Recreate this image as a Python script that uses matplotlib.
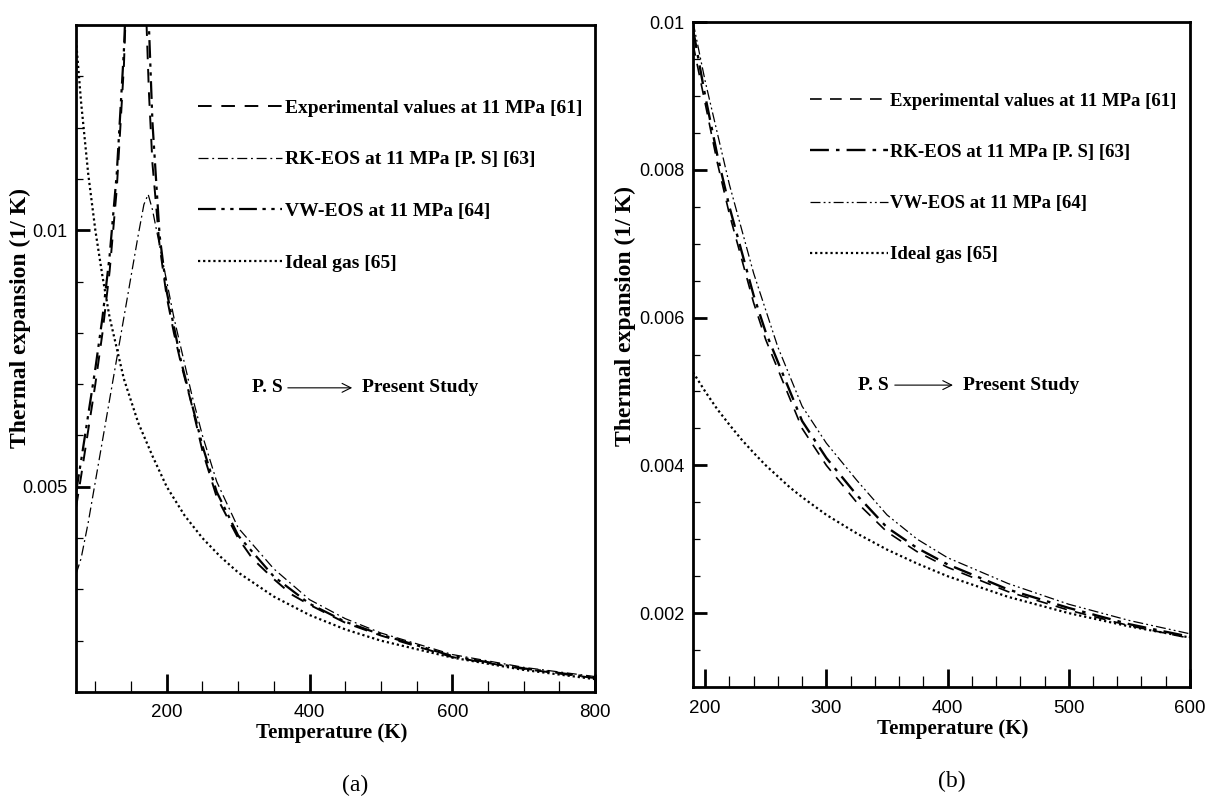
import matplotlib
matplotlib.use("Agg")
import matplotlib.pyplot as plt
from matplotlib.ticker import MultipleLocator

# ---------------- panel (a) data ----------------
t_exp_a = [73, 80, 90, 100, 110, 120, 130, 140, 145, 150, 155, 160, 165, 170, 175, 180, 190,
           200, 210, 220, 235, 250, 270, 300, 320, 350, 375, 400, 450, 500, 600, 700, 800]
exp_a = [0.0046, 0.0052, 0.0061, 0.0070, 0.0080, 0.0092, 0.0108, 0.0132, 0.0152, 0.0180, 0.0205,
         0.0210, 0.0185, 0.0147, 0.0127, 0.0113, 0.0097, 0.0087, 0.0080, 0.0074, 0.0066, 0.0057,
         0.0048, 0.0040, 0.0036, 0.0032, 0.0029, 0.0027, 0.00235, 0.0021, 0.00168, 0.00145, 0.00127]

t_rk_a = [73, 80, 90, 100, 110, 120, 130, 140, 150, 160, 168, 174, 180, 190, 200, 210, 220,
          235, 250, 270, 300, 350, 400, 450, 500, 600, 700, 800]
rk_a = [0.0033, 0.0036, 0.0043, 0.0051, 0.0059, 0.0067, 0.0075, 0.0083, 0.0091, 0.0099, 0.0105,
        0.0107, 0.0104, 0.0097, 0.0090, 0.0083, 0.0077, 0.0068, 0.0060, 0.0051, 0.0042, 0.0034,
        0.0028, 0.00243, 0.00215, 0.00173, 0.00148, 0.0013]

t_vw_a = [73, 80, 90, 100, 110, 120, 130, 140, 150, 160, 165, 170, 175, 180, 190, 200, 220,
          250, 270, 300, 350, 400, 450, 500, 600, 700, 800]
vw_a = [0.0049, 0.0055, 0.0064, 0.0073, 0.0083, 0.0095, 0.0111, 0.0135, 0.0170, 0.0195, 0.0190,
        0.0165, 0.0140, 0.0121, 0.0099, 0.0088, 0.00745, 0.0058, 0.0049, 0.00405, 0.00325,
        0.00272, 0.00237, 0.00212, 0.0017, 0.00146, 0.00128]

t_ideal_a = [73, 80, 90, 100, 110, 120, 130, 140, 160, 180, 200, 225, 250, 275, 300, 350, 400,
             450, 500, 600, 700, 800]
ideal_a = [0.0137, 0.0125, 0.0111, 0.0100, 0.0091, 0.0083, 0.0077, 0.0071, 0.00625, 0.0056,
           0.0050, 0.00444, 0.0040, 0.00364, 0.00333, 0.00286, 0.0025, 0.00222, 0.0020,
           0.00167, 0.00143, 0.00125]

# ---------------- panel (b) data ----------------
t_b = [190, 200, 210, 220, 230, 240, 250, 260, 270, 280, 300, 325, 350, 375, 400, 450, 500, 550, 600]
exp_b = [0.0097, 0.0089, 0.0081, 0.0074, 0.0068, 0.0062, 0.0057, 0.0053, 0.0049, 0.0045, 0.0040,
         0.0035, 0.0031, 0.00283, 0.00262, 0.00229, 0.00204, 0.00183, 0.00166]
rk_b = [0.0099, 0.0090, 0.0082, 0.0075, 0.0069, 0.0063, 0.0058, 0.0054, 0.0050, 0.0046, 0.0041,
        0.0036, 0.00316, 0.00288, 0.00266, 0.00232, 0.00207, 0.00185, 0.00168]
vw_b = [0.0100, 0.0092, 0.0085, 0.0078, 0.0072, 0.0066, 0.0061, 0.0056, 0.0052, 0.0048, 0.0043,
        0.0038, 0.00333, 0.003, 0.00275, 0.0024, 0.00212, 0.0019, 0.00172]
ideal_b = [0.00526, 0.0050, 0.00476, 0.00455, 0.00435, 0.00417, 0.0040, 0.00385, 0.0037,
           0.00357, 0.00333, 0.00308, 0.00286, 0.00267, 0.0025, 0.00222, 0.0020, 0.00182, 0.00167]

labels = ["Experimental values at 11 MPa [61]", "RK-EOS at 11 MPa [P. S] [63]",
          "VW-EOS at 11 MPa [64]", "Ideal gas [65]"]

SERIF = "Liberation Serif"
SANS = "Liberation Sans"

dash = (0, (7, 5))
dashdot = (0, (8, 3, 1.5, 3))
dashdotdot = (0, (8, 2.5, 1.5, 2.5, 1.5, 2.5))
dots = (0, (1, 1.3))

fig = plt.figure(figsize=(12.15, 8.01), dpi=100)
ax1 = fig.add_axes([0.0626, 0.1361, 0.4272, 0.8327])
ax2 = fig.add_axes([0.5704, 0.1423, 0.4090, 0.8302])

# panel (a)
ax1.plot(t_exp_a, exp_a, color="black", lw=1.4, ls=dash, label=labels[0])
ax1.plot(t_rk_a, rk_a, color="black", lw=0.9, ls=dashdot, label=labels[1])
ax1.plot(t_vw_a, vw_a, color="black", lw=1.6, ls=dashdotdot, label=labels[2])
ax1.plot(t_ideal_a, ideal_a, color="black", lw=1.6, ls=dots, label=labels[3])
ax1.set_xlim(73, 800)
ax1.set_ylim(0.001, 0.014)
ax1.set_xticks([200, 400, 600, 800], ["200", "400", "600", "800"])
ax1.set_yticks([0.005, 0.01], ["0.005", "0.01"])
ax1.xaxis.set_minor_locator(MultipleLocator(50))
ax1.yaxis.set_minor_locator(MultipleLocator(0.001))

# panel (b)
ax2.plot(t_b, exp_b, color="black", lw=1.2, ls=dash, label=labels[0])
ax2.plot(t_b, rk_b, color="black", lw=1.7, ls=dashdot, label=labels[1])
ax2.plot(t_b, vw_b, color="black", lw=0.9, ls=dashdotdot, label=labels[2])
ax2.plot(t_b, ideal_b, color="black", lw=1.6, ls=dots, label=labels[3])
ax2.set_xlim(190, 600)
ax2.set_ylim(0.001, 0.01)
ax2.set_xticks([200, 300, 400, 500, 600], ["200", "300", "400", "500", "600"])
ax2.set_yticks([0.002, 0.004, 0.006, 0.008, 0.01],
               ["0.002", "0.004", "0.006", "0.008", "0.01"])
ax2.xaxis.set_minor_locator(MultipleLocator(20))
ax2.yaxis.set_minor_locator(MultipleLocator(0.0005))

for ax, ylab_xy, xlab_xy, leg_xy, leg_fs, leg_hl, leg_ls in [
        (ax1, (-0.087, 0.561), (0.493, -0.047), (0.235, 0.889), 14, 4.3, 1.76),
        (ax2, (-0.115, 0.558), (0.523, -0.048), (0.235, 0.894), 13.5, 4.15, 1.82)]:
    for s in ax.spines.values():
        s.set_linewidth(2.0)
    ax.tick_params(axis="both", which="both", direction="in", top=False, right=False)
    ax.tick_params(axis="x", which="major", length=13, width=2.0, pad=9, labelsize=13.5)
    ax.tick_params(axis="x", which="minor", length=8, width=0.9)
    ax.tick_params(axis="y", which="major", length=10, width=2.0, pad=6, labelsize=13)
    ax.tick_params(axis="y", which="minor", length=5, width=0.9)
    for t in ax.get_xticklabels() + ax.get_yticklabels():
        t.set_fontfamily(SANS)
    ax.set_xlabel("Temperature (K)", fontfamily=SERIF, fontweight="bold", fontsize=15)
    ax.set_ylabel("Thermal expansion (1/ K)", fontfamily=SERIF, fontweight="bold", fontsize=17)
    ax.xaxis.set_label_coords(*xlab_xy)
    ax.yaxis.set_label_coords(*ylab_xy)
    ax.legend(loc="upper left", bbox_to_anchor=leg_xy, frameon=False,
              borderaxespad=0, borderpad=0, handlelength=leg_hl, handletextpad=0.15,
              labelspacing=leg_ls, prop={"family": SERIF, "weight": "bold", "size": leg_fs})

# "P. S -> Present Study" notes
for ax, (x0, y0, xa0, xa1, x1) in [(ax1, (0.339, 0.456, 0.408, 0.532, 0.551)),
                                   (ax2, (0.332, 0.454, 0.406, 0.523, 0.543))]:
    ax.text(x0, y0, "P. S", transform=ax.transAxes, ha="left", va="center",
            fontfamily=SERIF, fontweight="bold", fontsize=14)
    ax.annotate("", xy=(xa1, y0), xytext=(xa0, y0), xycoords="axes fraction",
                arrowprops=dict(arrowstyle="->", lw=0.8, color="black",
                                mutation_scale=16, shrinkA=0, shrinkB=0))
    ax.text(x1, y0, "Present Study", transform=ax.transAxes, ha="left", va="center",
            fontfamily=SERIF, fontweight="bold", fontsize=14)

fig.text(0.292, 0.020, "(a)", ha="center", va="center", fontfamily=SERIF, fontsize=17)
fig.text(0.7835, 0.024, "(b)", ha="center", va="center", fontfamily=SERIF, fontsize=17)

fig.savefig("out.png", dpi=100)
plt.close(fig)
